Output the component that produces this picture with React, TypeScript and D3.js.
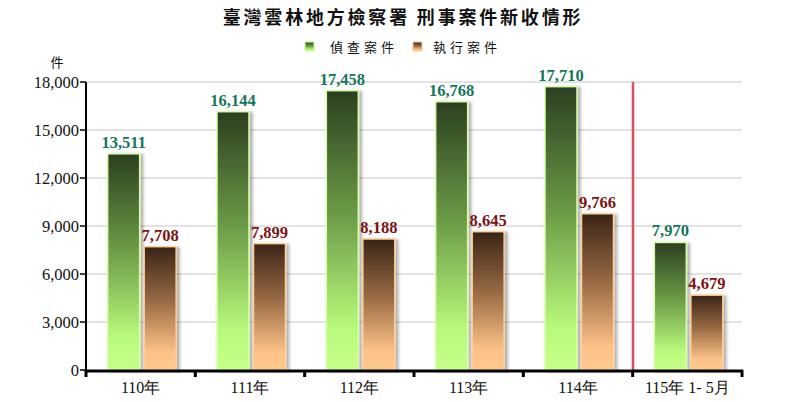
import React from "react";
import * as d3 from "d3";

const categories = ["110年", "111年", "112年", "113年", "114年", "115年 1- 5月"];
const investigation = [13511, 16144, 17458, 16768, 17710, 7970];
const execution = [7708, 7899, 8188, 8645, 9766, 4679];
const yTicks = [0, 3000, 6000, 9000, 12000, 15000, 18000];
const seriesNames = ["偵查案件", "執行案件"];

const W = 804, H = 402;
const left = 86, right = 742, top = 82, bottom = 370;

export default function App() {
  const x = d3.scaleBand<string>().domain(categories).range([left, right]).padding(0);
  const y = d3.scaleLinear().domain([0, 18000]).range([bottom, top]);
  const fmt = d3.format(",");
  const bw = 32;
  const serif = "'Liberation Serif','Times New Roman',serif";
  const cjk = "'Noto Sans CJK TC','Noto Sans CJK SC',sans-serif";
  const boundaries = categories.map((c) => x(c)!).concat([right]);
  return (
    <svg width={W} height={H} style={{ position: "absolute", left: 0, top: 0, background: "#fff" }}>
      <defs>
        <linearGradient id="gG" x1="0" y1="0" x2="0" y2="1">
          <stop offset="0" stopColor="#2b3f20" />
          <stop offset="0.45" stopColor="#6d9c47" />
          <stop offset="0.85" stopColor="#b8fa7c" />
          <stop offset="1" stopColor="#c6ff8a" />
        </linearGradient>
        <linearGradient id="gB" x1="0" y1="0" x2="0" y2="1">
          <stop offset="0" stopColor="#3a2416" />
          <stop offset="0.45" stopColor="#9b6c45" />
          <stop offset="0.85" stopColor="#fcc187" />
          <stop offset="1" stopColor="#ffc98e" />
        </linearGradient>
        <filter id="sh" x="-20%" y="-5%" width="160%" height="115%">
          <feDropShadow dx="3" dy="1" stdDeviation="1.5" floodColor="#000" floodOpacity="0.3" />
        </filter>
      </defs>
      <text x={403} y={24} textAnchor="middle" fontFamily={cjk} fontWeight="bold" fontSize={18} letterSpacing={2.8} fill="#111">
        臺灣雲林地方檢察署 刑事案件新收情形
      </text>
      <rect x={305} y={42} width={9} height={9} fill="url(#gG)" stroke="#c2ff84" strokeWidth={1} />
      <text x={330} y={52} fontFamily={cjk} fontSize={13} letterSpacing={4} fill="#111">{seriesNames[0]}</text>
      <rect x={413} y={42} width={9} height={9} fill="url(#gB)" stroke="#ffc88c" strokeWidth={1} />
      <text x={433} y={52} fontFamily={cjk} fontSize={13} letterSpacing={4} fill="#111">{seriesNames[1]}</text>
      <text x={57} y={67} textAnchor="middle" fontFamily={cjk} fontSize={13} fill="#111">件</text>
      {yTicks.map((t) => (
        <g key={t}>
          {t > 0 && <line x1={left} x2={right} y1={y(t)} y2={y(t)} stroke="#c8c8c8" strokeWidth={1} />}
          <line x1={left - 6} x2={left} y1={y(t)} y2={y(t)} stroke="#000" strokeWidth={1.5} />
          <text x={79} y={y(t) + 5.5} textAnchor="end" fontFamily={serif} fontSize={16.5} fill="#111">{fmt(t)}</text>
        </g>
      ))}
      <line x1={633} x2={633} y1={top} y2={bottom} stroke="#d9505c" strokeWidth={2.5} />
      {categories.map((c, i) => {
        const cx = x(c)! + x.bandwidth() / 2;
        const gx = cx - 17 - bw / 2;
        const bx = cx + 19.5 - bw / 2;
        return (
          <g key={c}>
            <rect x={gx} y={y(investigation[i])} width={bw} height={bottom - y(investigation[i])} fill="url(#gG)" stroke="#d8ffa8" strokeWidth={1.5} filter="url(#sh)" />
            <rect x={bx} y={y(execution[i])} width={bw} height={bottom - y(execution[i])} fill="url(#gB)" stroke="#ffcf98" strokeWidth={1.5} filter="url(#sh)" />
            <text x={gx + bw / 2} y={y(investigation[i]) - 6} textAnchor="middle" fontFamily={serif} fontWeight="bold" fontSize={16.5} fill="#14775a">{fmt(investigation[i])}</text>
            <text x={bx + bw / 2} y={y(execution[i]) - 6} textAnchor="middle" fontFamily={serif} fontWeight="bold" fontSize={16.5} fill="#7a1414">{fmt(execution[i])}</text>
            <text x={cx} y={393} textAnchor="middle" fontFamily={serif} fontSize={16} fill="#111">{c}</text>
          </g>
        );
      })}
      <line x1={left} x2={left} y1={top} y2={bottom + 1} stroke="#000" strokeWidth={2} />
      <line x1={left - 1} x2={right + 1} y1={bottom + 1} y2={bottom + 1} stroke="#000" strokeWidth={3} />
      {boundaries.map((b, i) => (
        <line key={i} x1={b} x2={b} y1={bottom} y2={bottom + 7} stroke="#000" strokeWidth={3} />
      ))}
    </svg>
  );
}
